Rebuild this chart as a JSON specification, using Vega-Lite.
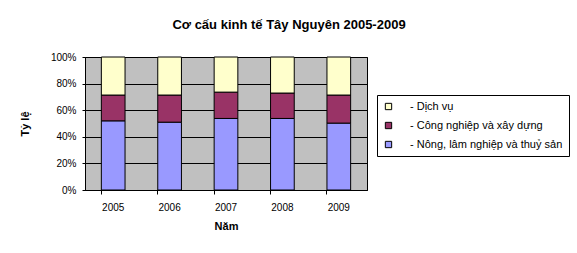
{
  "$schema": "https://vega.github.io/schema/vega-lite/v6.json",
  "width": 282,
  "height": 133,
  "autosize": {"type": "none"},
  "padding": {"left": 85, "top": 57, "right": 210, "bottom": 63},
  "background": "white",
  "title": {
    "text": "Cơ cấu kinh tế Tây Nguyên 2005-2009",
    "font": "Liberation Sans",
    "fontSize": 13,
    "fontWeight": "bold",
    "color": "black",
    "anchor": "middle",
    "dx": 63,
    "offset": 20
  },
  "data": {
    "values": [
      {"year": "2005", "sector": "- Nông, lâm nghiệp và thuỷ sản", "order": 1, "value": 52.0},
      {"year": "2005", "sector": "- Công nghiệp và xây dựng", "order": 2, "value": 19.4},
      {"year": "2005", "sector": "- Dịch vụ", "order": 3, "value": 28.6},
      {"year": "2006", "sector": "- Nông, lâm nghiệp và thuỷ sản", "order": 1, "value": 51.0},
      {"year": "2006", "sector": "- Công nghiệp và xây dựng", "order": 2, "value": 20.4},
      {"year": "2006", "sector": "- Dịch vụ", "order": 3, "value": 28.6},
      {"year": "2007", "sector": "- Nông, lâm nghiệp và thuỷ sản", "order": 1, "value": 53.8},
      {"year": "2007", "sector": "- Công nghiệp và xây dựng", "order": 2, "value": 19.8},
      {"year": "2007", "sector": "- Dịch vụ", "order": 3, "value": 26.4},
      {"year": "2008", "sector": "- Nông, lâm nghiệp và thuỷ sản", "order": 1, "value": 53.8},
      {"year": "2008", "sector": "- Công nghiệp và xây dựng", "order": 2, "value": 19.1},
      {"year": "2008", "sector": "- Dịch vụ", "order": 3, "value": 27.1},
      {"year": "2009", "sector": "- Nông, lâm nghiệp và thuỷ sản", "order": 1, "value": 50.3},
      {"year": "2009", "sector": "- Công nghiệp và xây dựng", "order": 2, "value": 21.1},
      {"year": "2009", "sector": "- Dịch vụ", "order": 3, "value": 28.6}
    ]
  },
  "mark": {"type": "bar", "stroke": "black", "strokeWidth": 1},
  "encoding": {
    "x": {
      "field": "year",
      "type": "ordinal",
      "scale": {"paddingInner": 0.58, "paddingOuter": 0.29},
      "axis": {
        "title": "Năm",
        "labelAngle": 0,
        "bandPosition": 0,
        "grid": false,
        "tickSize": 4,
        "labelPadding": 8,
        "titlePadding": 8,
        "domainColor": "black",
        "tickColor": "black"
      }
    },
    "y": {
      "field": "value",
      "type": "quantitative",
      "stack": "normalize",
      "scale": {"domain": [0, 1]},
      "axis": {
        "title": "Tỷ lệ",
        "format": ".0%",
        "values": [0, 0.2, 0.4, 0.6, 0.8, 1],
        "grid": true,
        "gridColor": "black",
        "gridOpacity": 1,
        "tickSize": 3,
        "labelPadding": 6,
        "titlePadding": 20,
        "domainColor": "black",
        "tickColor": "black"
      }
    },
    "color": {
      "field": "sector",
      "type": "nominal",
      "scale": {
        "domain": ["- Dịch vụ", "- Công nghiệp và xây dựng", "- Nông, lâm nghiệp và thuỷ sản"],
        "range": ["#FFFFCC", "#993366", "#9999FF"]
      },
      "legend": {
        "title": null,
        "orient": "none",
        "legendX": 292,
        "legendY": 38,
        "symbolType": "square",
        "symbolSize": 40,
        "symbolStrokeColor": "black",
        "symbolStrokeWidth": 1,
        "labelOffset": 16,
        "rowPadding": 7,
        "padding": 6,
        "strokeColor": "black",
        "fillColor": "white",
        "labelLimit": 300
      }
    },
    "order": {"field": "order", "type": "quantitative"}
  },
  "config": {
    "font": "Liberation Sans",
    "view": {"fill": "#C0C0C0", "stroke": "black", "strokeWidth": 1},
    "axis": {
      "labelFont": "Liberation Sans",
      "labelFontSize": 10,
      "labelColor": "black",
      "titleFont": "Liberation Sans",
      "titleFontSize": 11,
      "titleFontWeight": "bold",
      "titleColor": "black"
    },
    "legend": {
      "labelFont": "Liberation Sans",
      "labelFontSize": 11,
      "labelColor": "black"
    }
  }
}
